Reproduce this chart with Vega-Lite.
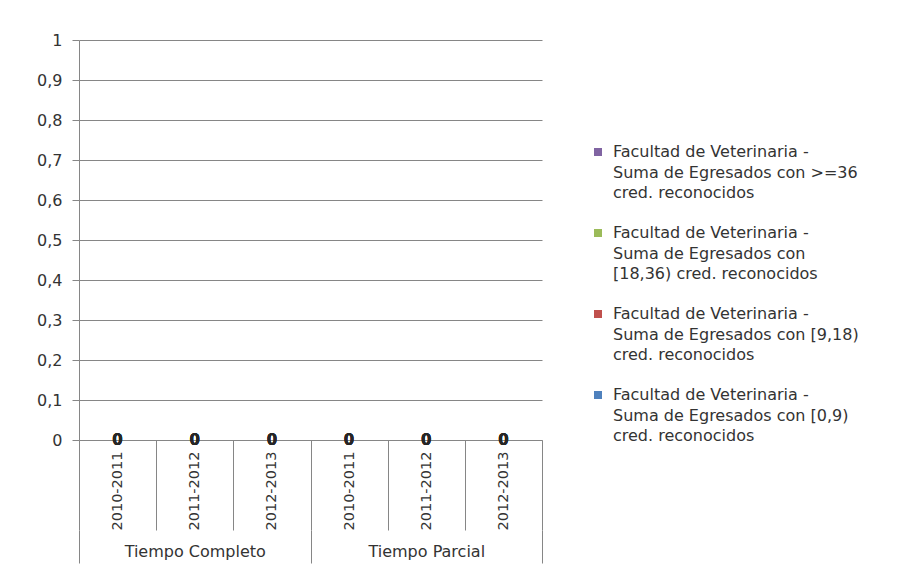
{
  "$schema": "https://vega.github.io/schema/vega-lite/v6.json",
  "width": 463,
  "height": 400,
  "autosize": {"type": "none"},
  "padding": {"left": 79, "top": 40, "right": 363, "bottom": 131},
  "background": "white",
  "config": {
    "view": {"stroke": null},
    "font": "DejaVu Sans",
    "axis": {"labelFont": "DejaVu Sans", "labelColor": "#333333", "titleFont": "DejaVu Sans"},
    "legend": {"labelFont": "DejaVu Sans"}
  },
  "data": {
    "values": [
      {"grupo": "Tiempo Completo", "categoria": "Tiempo Completo 2010-2011", "serie": "Facultad de Veterinaria - Suma de Egresados con >=36 cred. reconocidos", "egresados": 0},
      {"grupo": "Tiempo Completo", "categoria": "Tiempo Completo 2010-2011", "serie": "Facultad de Veterinaria - Suma de Egresados con [18,36) cred. reconocidos", "egresados": 0},
      {"grupo": "Tiempo Completo", "categoria": "Tiempo Completo 2010-2011", "serie": "Facultad de Veterinaria - Suma de Egresados con [9,18) cred. reconocidos", "egresados": 0},
      {"grupo": "Tiempo Completo", "categoria": "Tiempo Completo 2010-2011", "serie": "Facultad de Veterinaria - Suma de Egresados con [0,9) cred. reconocidos", "egresados": 0},
      {"grupo": "Tiempo Completo", "categoria": "Tiempo Completo 2011-2012", "serie": "Facultad de Veterinaria - Suma de Egresados con >=36 cred. reconocidos", "egresados": 0},
      {"grupo": "Tiempo Completo", "categoria": "Tiempo Completo 2011-2012", "serie": "Facultad de Veterinaria - Suma de Egresados con [18,36) cred. reconocidos", "egresados": 0},
      {"grupo": "Tiempo Completo", "categoria": "Tiempo Completo 2011-2012", "serie": "Facultad de Veterinaria - Suma de Egresados con [9,18) cred. reconocidos", "egresados": 0},
      {"grupo": "Tiempo Completo", "categoria": "Tiempo Completo 2011-2012", "serie": "Facultad de Veterinaria - Suma de Egresados con [0,9) cred. reconocidos", "egresados": 0},
      {"grupo": "Tiempo Completo", "categoria": "Tiempo Completo 2012-2013", "serie": "Facultad de Veterinaria - Suma de Egresados con >=36 cred. reconocidos", "egresados": 0},
      {"grupo": "Tiempo Completo", "categoria": "Tiempo Completo 2012-2013", "serie": "Facultad de Veterinaria - Suma de Egresados con [18,36) cred. reconocidos", "egresados": 0},
      {"grupo": "Tiempo Completo", "categoria": "Tiempo Completo 2012-2013", "serie": "Facultad de Veterinaria - Suma de Egresados con [9,18) cred. reconocidos", "egresados": 0},
      {"grupo": "Tiempo Completo", "categoria": "Tiempo Completo 2012-2013", "serie": "Facultad de Veterinaria - Suma de Egresados con [0,9) cred. reconocidos", "egresados": 0},
      {"grupo": "Tiempo Parcial", "categoria": "Tiempo Parcial 2010-2011", "serie": "Facultad de Veterinaria - Suma de Egresados con >=36 cred. reconocidos", "egresados": 0},
      {"grupo": "Tiempo Parcial", "categoria": "Tiempo Parcial 2010-2011", "serie": "Facultad de Veterinaria - Suma de Egresados con [18,36) cred. reconocidos", "egresados": 0},
      {"grupo": "Tiempo Parcial", "categoria": "Tiempo Parcial 2010-2011", "serie": "Facultad de Veterinaria - Suma de Egresados con [9,18) cred. reconocidos", "egresados": 0},
      {"grupo": "Tiempo Parcial", "categoria": "Tiempo Parcial 2010-2011", "serie": "Facultad de Veterinaria - Suma de Egresados con [0,9) cred. reconocidos", "egresados": 0},
      {"grupo": "Tiempo Parcial", "categoria": "Tiempo Parcial 2011-2012", "serie": "Facultad de Veterinaria - Suma de Egresados con >=36 cred. reconocidos", "egresados": 0},
      {"grupo": "Tiempo Parcial", "categoria": "Tiempo Parcial 2011-2012", "serie": "Facultad de Veterinaria - Suma de Egresados con [18,36) cred. reconocidos", "egresados": 0},
      {"grupo": "Tiempo Parcial", "categoria": "Tiempo Parcial 2011-2012", "serie": "Facultad de Veterinaria - Suma de Egresados con [9,18) cred. reconocidos", "egresados": 0},
      {"grupo": "Tiempo Parcial", "categoria": "Tiempo Parcial 2011-2012", "serie": "Facultad de Veterinaria - Suma de Egresados con [0,9) cred. reconocidos", "egresados": 0},
      {"grupo": "Tiempo Parcial", "categoria": "Tiempo Parcial 2012-2013", "serie": "Facultad de Veterinaria - Suma de Egresados con >=36 cred. reconocidos", "egresados": 0},
      {"grupo": "Tiempo Parcial", "categoria": "Tiempo Parcial 2012-2013", "serie": "Facultad de Veterinaria - Suma de Egresados con [18,36) cred. reconocidos", "egresados": 0},
      {"grupo": "Tiempo Parcial", "categoria": "Tiempo Parcial 2012-2013", "serie": "Facultad de Veterinaria - Suma de Egresados con [9,18) cred. reconocidos", "egresados": 0},
      {"grupo": "Tiempo Parcial", "categoria": "Tiempo Parcial 2012-2013", "serie": "Facultad de Veterinaria - Suma de Egresados con [0,9) cred. reconocidos", "egresados": 0}
    ]
  },
  "layer": [
    {
      "encoding": {
        "x": {
          "field": "categoria",
          "type": "nominal",
          "sort": null,
          "scale": {"type": "band", "paddingInner": 0, "paddingOuter": 0},
          "axis": {
            "title": null,
            "grid": false,
            "domain": true,
            "domainColor": "#868686",
            "domainWidth": 1,
            "ticks": true,
            "tickColor": "#868686",
            "tickSize": 90,
            "tickBand": "extent",
            "labelAngle": -90,
            "labelPadding": -79,
            "labelFontSize": 14.5,
            "labelOverlap": false,
            "labelExpr": "slice(datum.label, -9)"
          }
        },
        "y": {
          "field": "egresados",
          "type": "quantitative",
          "stack": "zero",
          "scale": {"domain": [0, 1], "nice": false, "zero": true},
          "axis": {
            "title": null,
            "values": [0, 0.1, 0.2, 0.3, 0.4, 0.5, 0.6, 0.7, 0.8, 0.9, 1],
            "tickCount": 20,
            "labelExpr": "replace(format(datum.value, '.1~f'), '.', ',')",
            "labelOverlap": false,
            "grid": true,
            "gridColor": "#868686",
            "gridWidth": 1,
            "domain": true,
            "domainColor": "#868686",
            "tickColor": "#868686",
            "tickSize": 7,
            "labelPadding": 10,
            "labelFontSize": 16
          }
        }
      },
      "layer": [
        {
          "mark": {"type": "bar"},
          "encoding": {
            "color": {
              "field": "serie",
              "type": "nominal",
              "scale": {
                "domain": [
                  "Facultad de Veterinaria - Suma de Egresados con >=36 cred. reconocidos",
                  "Facultad de Veterinaria - Suma de Egresados con [18,36) cred. reconocidos",
                  "Facultad de Veterinaria - Suma de Egresados con [9,18) cred. reconocidos",
                  "Facultad de Veterinaria - Suma de Egresados con [0,9) cred. reconocidos"
                ],
                "range": ["#8064A2", "#9BBB59", "#C0504D", "#4F81BD"]
              },
              "legend": {
                "orient": "none",
                "legendX": 511,
                "legendY": 104,
                "padding": 0,
                "title": null,
                "symbolType": "square",
                "symbolSize": 64,
                "symbolStrokeWidth": 0,
                "labelFontSize": 16,
                "labelColor": "#333333",
                "labelLimit": 0,
                "labelOffset": 7,
                "rowPadding": 24,
                "labelExpr": "indexof(datum.label, '[18,36)') >= 0 ? ['Facultad de Veterinaria -', 'Suma de Egresados con', '[18,36) cred. reconocidos'] : ['Facultad de Veterinaria -', slice(datum.label, 26, indexof(datum.label, ' cred.')), 'cred. reconocidos']",
                "encode": {"labels": {"update": {"lineHeight": {"value": 20.5}}}}
              }
            }
          }
        },
        {
          "mark": {"type": "text", "fontWeight": "bold", "fontSize": 15, "color": "#262626", "baseline": "middle", "align": "center"},
          "encoding": {
            "detail": {"field": "serie"},
            "text": {"field": "egresados", "type": "quantitative"}
          }
        }
      ]
    },
    {
      "mark": {"type": "text", "text": "", "opacity": 0},
      "encoding": {
        "x": {
          "field": "grupo",
          "type": "nominal",
          "sort": null,
          "scale": {"type": "band", "paddingInner": 0, "paddingOuter": 0},
          "axis": {
            "orient": "bottom",
            "offset": 90,
            "title": null,
            "grid": false,
            "domain": false,
            "ticks": true,
            "tickColor": "#868686",
            "tickSize": 33,
            "tickBand": "extent",
            "labelAngle": 0,
            "labelPadding": -20,
            "labelFontSize": 16
          }
        }
      }
    }
  ],
  "resolve": {"scale": {"x": "independent"}, "axis": {"x": "independent"}}
}
